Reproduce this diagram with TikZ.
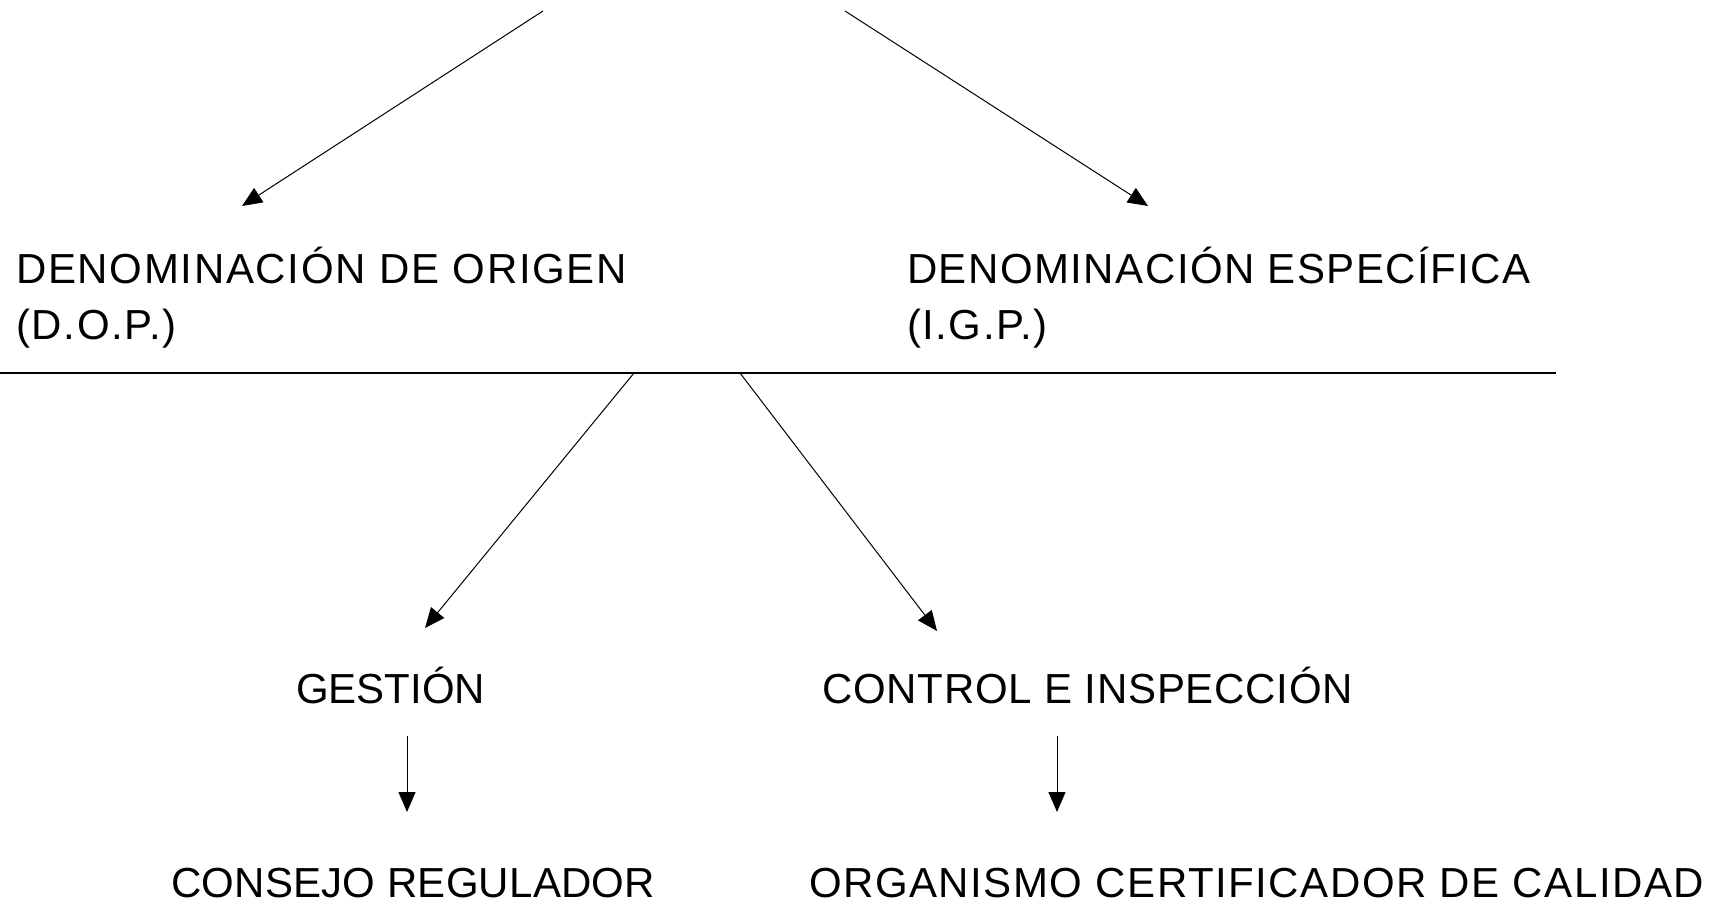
\documentclass[tikz,border=0pt]{standalone}
\usepackage{fontspec}
\setmainfont{Liberation Sans}
\usetikzlibrary{arrows.meta,positioning,calc}

\begin{document}
\begin{tikzpicture}
      [x = 1pt, y = -1pt,
      arr/.style = {-{Triangle[length=20pt,width=17pt]}, line width = 1pt},
      bar/.style = {line width = 2pt},
      lbl/.style = {
         anchor = base west,
         inner sep = 0pt,
         font = \fontsize{42}{56}\selectfont\addfontfeature{LetterSpace=#1}
      },
      lbl/.default = 0]
      \useasboundingbox (0, 0) rectangle (1721, 904);

      % labels
      \node[lbl=4] (dop) at (16, 283) {DENOMINACIÓN DE ORIGEN};
      \node[lbl=4] (dopabbr) at ([yshift=-56pt]dop.base west) {(D.O.P.)};
      \node[lbl=3.5] (igp) at (907, 283) {DENOMINACIÓN ESPECÍFICA};
      \node[lbl=3.5] (igpabbr) at ([yshift=-56pt]igp.base west) {(I.G.P.)};
      \node[lbl] (gestion) at (296, 703) {GESTIÓN};
      \node[lbl=1.8] (control) at (822, 703) {CONTROL E INSPECCIÓN};
      \node[lbl=0.5] (consejo) at (171, 897) {CONSEJO REGULADOR};
      \node[lbl=3.6] (organismo) at (809, 897) {ORGANISMO CERTIFICADOR DE CALIDAD};

      % arrow ends
      \coordinate (topL) at (543, 11);
      \coordinate (topR) at (845, 11);
      \coordinate (tipDop) at (242, 206);
      \coordinate (tipIgp) at (1148, 206);
      \coordinate (barL) at (0, 373);
      \coordinate (barR) at (1556, 373);
      \coordinate (forkL) at (634, 373);
      \coordinate (forkR) at (740, 373);
      \coordinate (tipGes) at (425, 628);
      \coordinate (tipCon) at (937, 631);

      \draw[arr] (topL) -- (tipDop);
      \draw[arr] (topR) -- (tipIgp);

      \draw[bar] (barL) -- (barR);

      \draw[arr] (forkL) -- (tipGes);
      \draw[arr] (forkR) -- (tipCon);

      \draw[arr] (407, 736) coordinate (gesDown) -- (407, 812) coordinate (conTip);
      \draw[arr] (1057, 736) coordinate (ctlDown) -- (1057, 812) coordinate (orgTip);

   \end{tikzpicture}
\end{document}
